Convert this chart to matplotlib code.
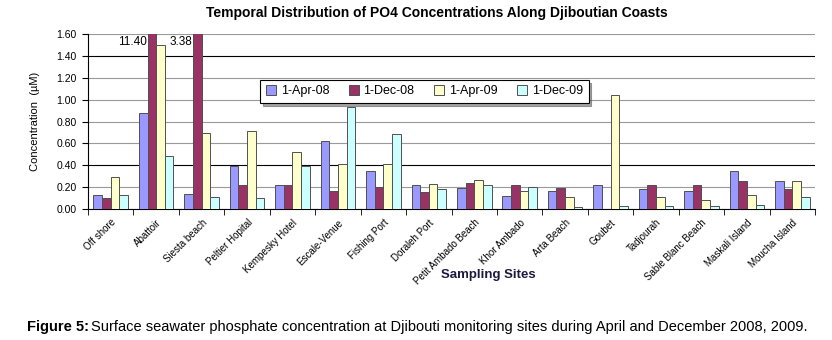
import matplotlib.pyplot as plt
import numpy as np

sites = ['Off shore', 'Abattoir', 'Siesta beach', 'Peltier Hopital', 'Kempesky Hotel',
         'Escale-Venue', 'Fishing Port', 'Doraleh Port', 'Petit Ambado Beach', 'Khor Ambado',
         'Arta Beach', 'Goubet', 'Tadjourah', 'Sable Blanc Beach', 'Maskali Island',
         'Moucha Island']
apr08 = [0.13, 0.88, 0.14, 0.39, 0.22, 0.62, 0.35, 0.22, 0.19, 0.12, 0.17, 0.22, 0.18, 0.17, 0.35, 0.26]
dec08 = [0.10, 11.40, 3.38, 0.22, 0.22, 0.17, 0.20, 0.16, 0.24, 0.22, 0.19, 0.00, 0.22, 0.22, 0.26, 0.18]
apr09 = [0.29, 1.50, 0.70, 0.71, 0.52, 0.41, 0.41, 0.23, 0.27, 0.17, 0.11, 1.04, 0.11, 0.08, 0.13, 0.26]
dec09 = [0.13, 0.49, 0.11, 0.10, 0.39, 0.93, 0.69, 0.18, 0.22, 0.20, 0.02, 0.03, 0.03, 0.03, 0.04, 0.11]
series = ['1-Apr-08', '1-Dec-08', '1-Apr-09', '1-Dec-09']
colors = ['#9999ff', '#993366', '#ffffcc', '#ccffff']
yticks = [0.0, 0.2, 0.4, 0.6, 0.8, 1.0, 1.2, 1.4, 1.6]

plt.rcParams['font.family'] = ['Liberation Sans', 'DejaVu Sans']

fig = plt.figure(figsize=(8.32, 3.4), dpi=100)
ax = fig.add_axes([0.1058, 0.385, 0.8738, 0.5147])

x = np.arange(len(sites))
w = 0.19
data = [apr08, dec08, apr09, dec09]
for k, vals in enumerate(data):
    ax.bar(x + (k - 1.5) * w, vals, w, color=colors[k], edgecolor='#505050',
           linewidth=0.7, label=series[k], zorder=3)

# values that run off the top
ymax = 1.6
for k, vals in enumerate(data):
    for i, v in enumerate(vals):
        if v > ymax:
            xb = x[i] + (k - 1.5) * w
            ax.text(xb - w / 2 - 0.02, 1.585, '%.2f' % v, ha='right', va='top', fontsize=8.5)

ax.set_ylim(0, ymax)
ax.set_xlim(-0.5, len(sites) - 0.5)
ax.set_yticks(yticks)
ax.set_yticklabels(['%.2f' % t for t in yticks], fontsize=7.5)
ax.yaxis.grid(True, color='#999999', linewidth=0.8, zorder=0)
for gl, t in zip(ax.get_ygridlines(), yticks):
    if t in (0.4, 1.4):
        gl.set_color('black')

ax.set_xticks(x)
ax.set_xticklabels(sites, rotation=45, ha='right', rotation_mode='anchor', fontsize=7)
ax.tick_params(axis='x', length=0, pad=6)
ax.set_xticks(np.arange(len(sites) + 1) - 0.5, minor=True)
ax.tick_params(axis='x', which='minor', length=4, direction='out')
ax.tick_params(axis='y', length=4, direction='out', pad=4)

for s in ['top', 'right']:
    ax.spines[s].set_visible(False)

ax.set_ylabel('Concentration  (µM)', fontsize=8, labelpad=12)
ax.set_xlabel('Sampling Sites', fontsize=9.5, fontweight='bold', color='#1a1a40')
ax.xaxis.set_label_coords(0.55, -0.34)

ax.set_title('Temporal Distribution of PO4 Concentrations Along Djiboutian Coasts',
             fontsize=10, fontweight='bold', pad=12, x=0.48)

leg = ax.legend(ncol=4, loc='upper left', bbox_to_anchor=(0.228, 0.775), fontsize=9,
                frameon=True, fancybox=False, shadow=True, handlelength=0.8,
                handleheight=0.8, columnspacing=1.55, handletextpad=0.4,
                borderpad=0.45)
leg.get_frame().set_edgecolor('black')
leg.get_frame().set_linewidth(0.8)

fig.text(0.032, 0.025, 'Figure 5:', fontsize=10.5, fontweight='bold')
fig.text(0.109, 0.025, 'Surface seawater phosphate concentration at Djibouti monitoring sites '
         'during April and December 2008, 2009.', fontsize=10.5)

fig.savefig('out.png', dpi=100)
